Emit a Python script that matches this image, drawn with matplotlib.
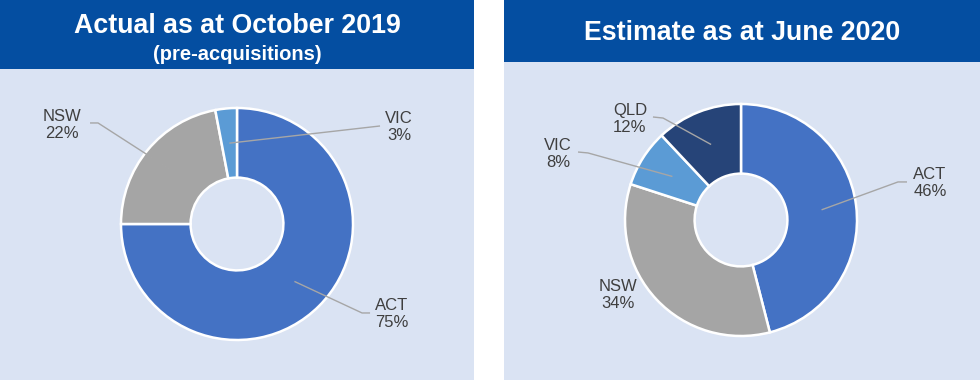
import numpy as np
import matplotlib
matplotlib.use("Agg")
import matplotlib.pyplot as plt
from matplotlib.patches import Rectangle

plt.rcParams['font.family'] = ['Liberation Sans', 'DejaVu Sans']

# ---- data ----
left_title = "Actual as at October 2019"
left_subtitle = "(pre-acquisitions)"
left_labels = ["ACT", "NSW", "VIC"]
left_values = [75, 22, 3]

right_title = "Estimate as at June 2020"
right_labels = ["ACT", "NSW", "VIC", "QLD"]
right_values = [46, 34, 8, 12]

colors = {"ACT": "#4472c4", "NSW": "#a5a5a5", "VIC": "#5b9bd5", "QLD": "#264478"}

HEADER = "#044ea1"
PANEL = "#dae3f3"
TEXT = "#3f3f3f"
LINE = "#a6a6a6"

W, H = 980, 380
fig = plt.figure(figsize=(W / 100, H / 100), dpi=100)
fig.patch.set_facecolor("white")


def rect_px(x0, y0, x1, y1, color):
    fig.patches.append(Rectangle((x0 / W, 1 - y1 / H), (x1 - x0) / W, (y1 - y0) / H,
                                 transform=fig.transFigure, facecolor=color,
                                 edgecolor="none", zorder=0))


# panels
rect_px(0, 69, 474, H, PANEL)
rect_px(0, 0, 474, 69, HEADER)
rect_px(504, 62, W, H, PANEL)
rect_px(504, 0, W, 62, HEADER)

fig.text(237 / W, 1 - 33 / H, left_title, color="white", fontsize=19.3,
         fontweight="bold", ha="center", va="baseline")
fig.text(237 / W, 1 - 60 / H, left_subtitle, color="white", fontsize=14.5,
         fontweight="bold", ha="center", va="baseline")
fig.text(742 / W, 1 - 40 / H, right_title, color="white", fontsize=19.3,
         fontweight="bold", ha="center", va="baseline")

R = 116.0  # pixels per data unit (outer radius)


def make_axes(px0, py0, px1, py1):
    ax = fig.add_axes([px0 / W, 1 - py1 / H, (px1 - px0) / W, (py1 - py0) / H])
    ax.set_zorder(3)
    ax.patch.set_alpha(0)
    return ax


def donut(ax, labels, values):
    wedges, _ = ax.pie(values, colors=[colors[l] for l in labels], startangle=90,
                       counterclock=False, radius=1.0,
                       wedgeprops=dict(width=0.6, edgecolor="white", linewidth=1.8),
                       frame=False)
    return wedges


def mid_point(w, r=0.7):
    a = np.deg2rad((w.theta1 + w.theta2) / 2)
    return r * np.cos(a), r * np.sin(a)


def label(ax, w, text, pos, start=None, elbow=None):
    ax.text(pos[0], pos[1], text, ha="center", va="center", fontsize=12,
            color=TEXT, linespacing=1.15, zorder=5)
    if start is not None:
        mx, my = mid_point(w)
        pts = [start] + ([elbow] if elbow is not None else []) + [(mx, my)]
        xs, ys = zip(*pts)
        ax.plot(xs, ys, color=LINE, lw=1.0, zorder=4, solid_capstyle="butt")


def finish(ax, px0, py0, px1, py1, cx, cy):
    ax.set_aspect("auto")
    ax.set_xlim((px0 - cx) / R, (px1 - cx) / R)
    ax.set_ylim(-(py1 - cy) / R, (cy - py0) / R)
    ax.set_axis_off()


# left donut
axl = make_axes(0, 69, 474, H)
wl = donut(axl, left_labels, left_values)
lv = dict(zip(left_labels, zip(wl, left_values)))
label(axl, lv["ACT"][0], f"ACT\n{lv['ACT'][1]}%", (1.336, -0.776), (1.147, -0.767), (1.078, -0.767))
label(axl, lv["NSW"][0], f"NSW\n{lv['NSW'][1]}%", (-1.509, 0.853), (-1.267, 0.871), (-1.198, 0.871))
label(axl, lv["VIC"][0], f"VIC\n{lv['VIC'][1]}%", (1.397, 0.836), (1.233, 0.845))
finish(axl, 0, 69, 474, H, 237, 224)

# right donut
axr = make_axes(504, 62, W, H)
wr = donut(axr, right_labels, right_values)
rv = dict(zip(right_labels, zip(wr, right_values)))
label(axr, rv["ACT"][0], f"ACT\n{rv['ACT'][1]}%", (1.629, 0.319), (1.431, 0.328), (1.353, 0.328))
label(axr, rv["NSW"][0], f"NSW\n{rv['NSW'][1]}%", (-1.06, -0.647))
label(axr, rv["VIC"][0], f"VIC\n{rv['VIC'][1]}%", (-1.578, 0.569), (-1.405, 0.586), (-1.319, 0.578))
label(axr, rv["QLD"][0], f"QLD\n{rv['QLD'][1]}%", (-0.957, 0.871), (-0.759, 0.888), (-0.672, 0.879))
finish(axr, 504, 62, W, H, 741, 220)

fig.savefig("out.png", dpi=100)
